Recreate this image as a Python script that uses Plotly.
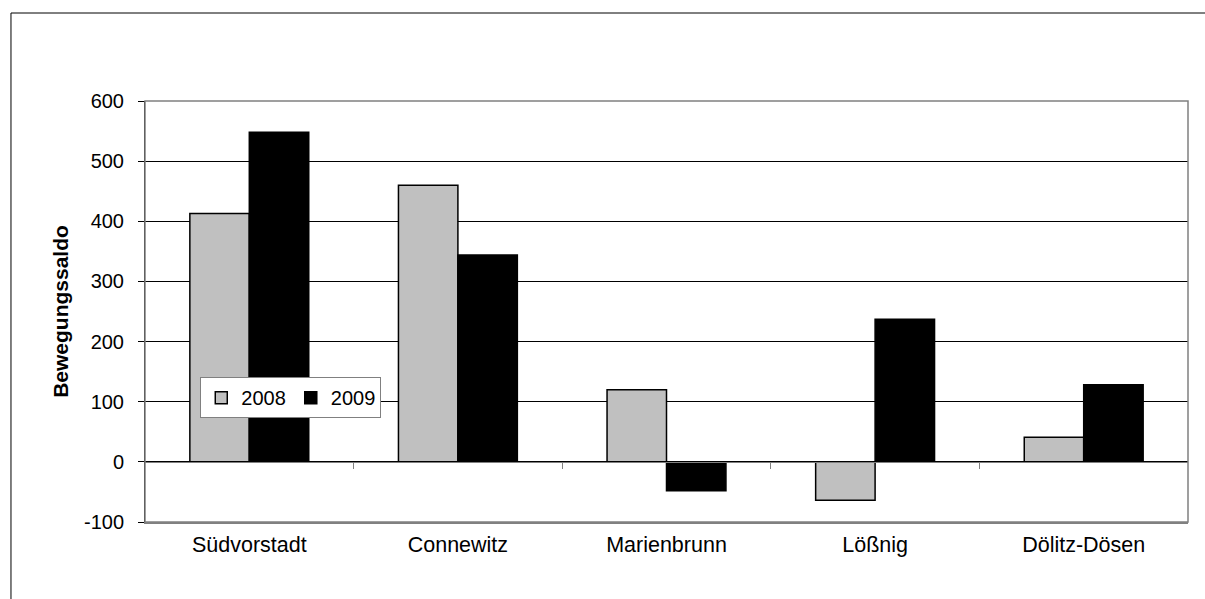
import plotly.graph_objects as go

categories = ["Südvorstadt", "Connewitz", "Marienbrunn", "Lößnig", "Dölitz-Dösen"]
values_2008 = [413, 460, 120, -64, 41]
values_2009 = [548, 344, -48, 237, 128]
series_names = ["2008", "2009"]
y_ticks = [-100, 0, 100, 200, 300, 400, 500, 600]
y_tick_labels = [str(v) for v in y_ticks]

FONT = "Liberation Sans, Arial, sans-serif"

fig = go.Figure()
fig.add_trace(go.Bar(x=categories, y=values_2008, name=series_names[0],
                     marker=dict(color="#C0C0C0", line=dict(color="#000000", width=1.5))))
fig.add_trace(go.Bar(x=categories, y=values_2009, name=series_names[1],
                     marker=dict(color="#000000", line=dict(color="#000000", width=1.5))))
# helper trace for the category axis drawn through zero
fig.add_trace(go.Scatter(x=[None], y=[None], xaxis="x2", showlegend=False, hoverinfo="skip"))

ymin, ymax = -100, 600
fig.update_layout(
    width=1205, height=599,
    margin=dict(l=145, r=17, t=101, b=77),
    paper_bgcolor="white", plot_bgcolor="white",
    barmode="group", bargap=0.43, bargroupgap=0,
    font=dict(family=FONT, size=20, color="#000000"),
    showlegend=True,
    legend=dict(orientation="h", x=0.053, y=0.344, xanchor="left", yanchor="top",
                bgcolor="white", bordercolor="#808080", borderwidth=1,
                font=dict(family=FONT, size=20, color="#000000"),
                itemwidth=30, tracegroupgap=0),
    xaxis=dict(type="category", range=[-0.5, 4.5], showgrid=False, zeroline=False,
               showline=True, linecolor="#808080", linewidth=1.5,
               ticks="", ticklabelstandoff=2,
               tickfont=dict(family=FONT, size=21.5, color="#000000")),
    xaxis2=dict(overlaying="x", anchor="free", position=(0 - ymin) / (ymax - ymin),
                range=[-0.5, 4.5], tickvals=[0.5, 1.5, 2.5, 3.5], showticklabels=False,
                ticks="outside", ticklen=6, tickcolor="#808080", tickwidth=1,
                showline=True, linecolor="#808080", linewidth=1, showgrid=False, zeroline=False),
    yaxis=dict(range=[ymin, ymax], tickvals=y_ticks, ticktext=y_tick_labels,
               showgrid=True, gridcolor="#000000",
               gridwidth=1, zeroline=False, showline=True, linecolor="#000000", linewidth=1,
               ticks="outside", ticklen=6, tickcolor="#000000", ticklabelstandoff=10,
               tickfont=dict(family=FONT, size=20, color="#000000"),
               title=dict(text="<b>Bewegungssaldo</b>", standoff=9,
                          font=dict(family=FONT, size=21, color="#000000"))),
    shapes=[
        dict(type="rect", xref="paper", yref="paper", x0=0, x1=1, y0=0, y1=1,
             line=dict(color="#808080", width=1.5), layer="above"),
        dict(type="path", xref="paper", yref="paper",
             path="M -0.1285,-0.25 L -0.1285,1.209 L 1.2,1.209",
             line=dict(color="#000000", width=1), layer="above"),
    ],
)

fig.write_html(
    "out.html",
    config={"displayModeBar": False},
    post_script="document.body.style.margin='0';document.body.style.overflow='hidden';",
)
